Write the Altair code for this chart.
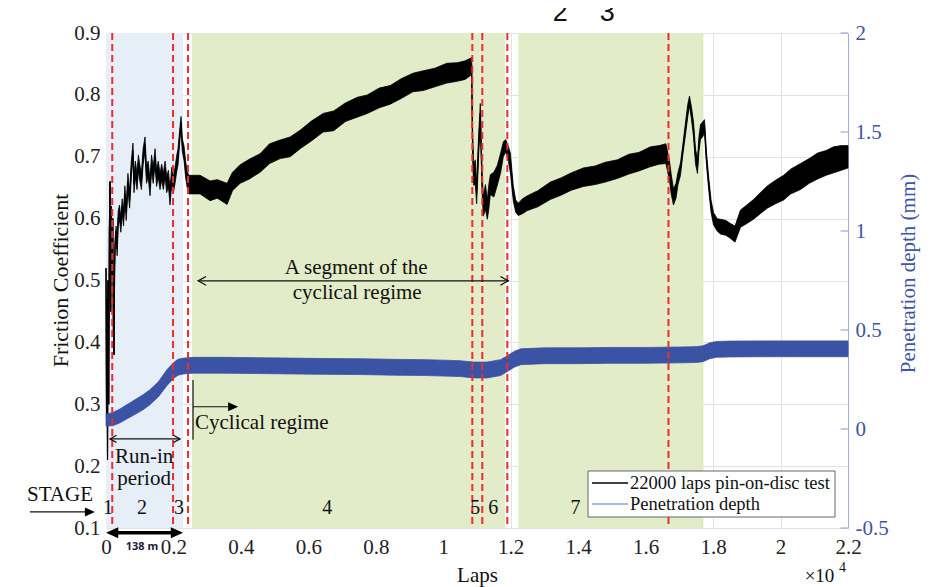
import altair as alt
import pandas as pd

FONT = "Liberation Serif"
W, H = 742, 495
XDOM = [0, 22000]
FRDOM = [0.1, 0.9]
DPDOM = [-0.5, 2]

# ---------------- friction coefficient (left axis): centre and half band width ----------------
fr_laps = [0, 15, 30, 45, 60, 80, 100, 120, 140, 160,
           180, 200, 220, 237, 255, 270, 300, 330, 360, 400,
           440, 480, 520, 560, 600, 650, 700, 750, 800, 830,
           870, 920, 960, 1000, 1050, 1100, 1157, 1200, 1250, 1306,
           1350, 1400, 1454, 1500, 1550, 1602, 1650, 1700, 1751, 1800,
           1850, 1899, 1950, 2000, 2047, 2100, 2136, 2180, 2225, 2260,
           2315, 2360, 2404, 2450,
           2493, 2789, 3086, 3300, 3590, 3750, 3976, 4250, 4570, 4850,
           5163, 5460, 5757, 6100, 6439, 6750, 7100, 7448, 7750, 8100,
           8427, 8750, 9100, 9407, 9750, 10100, 10415, 10650, 10801, 10840,
           10870, 10900, 10950, 10990, 11050, 11098, 11150, 11187, 11250, 11306,
           11350, 11395, 11500, 11602, 11700, 11780, 11850, 11929, 11990, 12077,
           12150, 12226, 12350, 12493, 12800, 13175, 13500, 13800, 14154, 14500,
           14800, 15163, 15500, 15800, 16142, 16400, 16600, 16700, 16760, 16825,
           16900, 16960, 17033, 17100, 17181, 17250, 17300, 17360, 17418, 17480,
           17537, 17580, 17626, 17700, 17745, 17800, 17864, 17940, 18012, 18120,
           18220, 18380, 18516, 18650, 18813, 19000, 19199, 19400, 19614, 19850,
           20089, 20300, 20593, 20850, 21098, 21350, 21573, 21800, 22000]
fr_mid = [0.52, 0.28, 0.47, 0.21, 0.50, 0.30, 0.58, 0.66, 0.45, 0.62,
          0.50, 0.60, 0.42, 0.38, 0.52, 0.56, 0.58, 0.55, 0.60, 0.61,
          0.59, 0.62, 0.60, 0.64, 0.61, 0.66, 0.63, 0.68, 0.71, 0.655,
          0.68, 0.66, 0.69, 0.675, 0.66, 0.70, 0.72, 0.67, 0.68, 0.65,
          0.69, 0.67, 0.70, 0.665, 0.68, 0.66, 0.675, 0.66, 0.68, 0.655,
          0.665, 0.635, 0.67, 0.655, 0.67, 0.69, 0.70, 0.73, 0.757, 0.72,
          0.705, 0.68, 0.665, 0.655,
          0.655, 0.655, 0.645, 0.648, 0.640, 0.66, 0.672, 0.68, 0.69, 0.705,
          0.712, 0.716, 0.728, 0.742, 0.755, 0.758, 0.772, 0.78, 0.785, 0.795,
          0.80, 0.81, 0.82, 0.823, 0.828, 0.835, 0.837, 0.84, 0.845, 0.848,
          0.72, 0.67, 0.675, 0.64, 0.72, 0.77, 0.66, 0.62, 0.635, 0.615,
          0.635, 0.655, 0.655, 0.67, 0.69, 0.712, 0.718, 0.705, 0.69, 0.64,
          0.62, 0.615, 0.62, 0.625, 0.632, 0.645, 0.652, 0.66, 0.667, 0.67,
          0.675, 0.68, 0.688, 0.692, 0.70, 0.703, 0.705, 0.68, 0.655, 0.635,
          0.645, 0.665, 0.68, 0.71, 0.745, 0.775, 0.79, 0.77, 0.745, 0.70,
          0.685, 0.72, 0.74, 0.745, 0.75, 0.70, 0.66, 0.62, 0.60, 0.59,
          0.587, 0.585, 0.58, 0.575, 0.60, 0.607, 0.615, 0.625, 0.635, 0.643,
          0.65, 0.66, 0.668, 0.677, 0.685, 0.69, 0.695, 0.698, 0.70]
fr_half = [0, 0, 0, 0, 0, 0, 0, 0, 0, 0,
           0, 0, 0, 0, 0.004, 0.006, 0.008, 0.01, 0.012, 0.012,
           0.012, 0.012, 0.012, 0.013, 0.013, 0.013, 0.013, 0.013, 0.012, 0.013,
           0.013, 0.013, 0.013, 0.013, 0.013, 0.013, 0.012, 0.013, 0.013, 0.013,
           0.013, 0.013, 0.013, 0.013, 0.013, 0.013, 0.013, 0.013, 0.013, 0.013,
           0.013, 0.013, 0.013, 0.013, 0.013, 0.013, 0.013, 0.01, 0.008, 0.01,
           0.012, 0.013, 0.014, 0.015,
           0.015, 0.015, 0.016, 0.015, 0.017, 0.015, 0.015, 0.016, 0.015, 0.016,
           0.015, 0.016, 0.015, 0.016, 0.015, 0.016, 0.015, 0.016, 0.015, 0.016,
           0.015, 0.016, 0.015, 0.016, 0.015, 0.016, 0.015, 0.015, 0.014, 0.012,
           0.016, 0.016, 0.02, 0.016, 0.016, 0.016, 0.016, 0.016, 0.02, 0.016,
           0.02, 0.016, 0.02, 0.016, 0.016, 0.012, 0.01, 0.012, 0.016, 0.012,
           0.01, 0.01, 0.012, 0.012, 0.013, 0.014, 0.014, 0.014, 0.015, 0.015,
           0.016, 0.015, 0.016, 0.015, 0.016, 0.015, 0.016, 0.016, 0.016, 0.013,
           0.012, 0.01, 0.01, 0.008, 0.01, 0.01, 0.008, 0.01, 0.012, 0.012,
           0.012, 0.012, 0.012, 0.012, 0.01, 0.01, 0.01, 0.01, 0.01, 0.01,
           0.012, 0.012, 0.012, 0.013, 0.014, 0.015, 0.016, 0.017, 0.018, 0.019,
           0.02, 0.02, 0.021, 0.02, 0.021, 0.02, 0.021, 0.02, 0.018]

# ---------------- penetration depth (right axis, mm) ----------------
dp_laps = [0, 200, 400, 800, 1100, 1300, 1550, 1810, 2000, 2136,
           2300, 2600, 3500, 4500, 5500, 6500, 7500, 8500, 9500, 10500,
           10900, 11300, 11700, 11900, 12100, 12300, 13000, 14000, 15000, 16000,
           17000, 17500, 17700, 17900, 18100, 18500, 19500, 20500, 21500, 22000]
dp_mid = [0.045, 0.05, 0.065, 0.105, 0.135, 0.16, 0.20, 0.26, 0.295, 0.312,
          0.318, 0.322, 0.322, 0.32, 0.318, 0.316, 0.315, 0.312, 0.31, 0.305,
          0.298, 0.298, 0.31, 0.33, 0.352, 0.365, 0.37, 0.37, 0.372, 0.372,
          0.374, 0.376, 0.38, 0.395, 0.402, 0.404, 0.405, 0.405, 0.405, 0.405]
dp_half = [0.03, 0.033, 0.035, 0.037, 0.038, 0.038, 0.038, 0.04, 0.04, 0.04,
           0.04, 0.04, 0.04, 0.04, 0.04, 0.04, 0.04, 0.04, 0.04, 0.04,
           0.04, 0.04, 0.04, 0.04, 0.04, 0.04, 0.04, 0.04, 0.04, 0.04,
           0.04, 0.04, 0.04, 0.04, 0.04, 0.04, 0.04, 0.04, 0.04, 0.04]

# ---------------- stages / annotations ----------------
divider_laps = [185, 1988, 2433, 10861, 11157, 11899, 16677]
shade_start = [0, 2552, 12226]
shade_end = [2285, 11840, 17715]
shade_kind = ["run-in", "cyclical", "cyclical"]
stage_names = ["1", "2", "3", "4", "5", "6", "7"]
stage_laps = [60, 1068, 2166, 6558, 10950, 11484, 13917]
series_names = ["22000 laps pin-on-disc test", "Penetration depth"]

x_ticks = [0, 2000, 4000, 6000, 8000, 10000, 12000, 14000, 16000, 18000, 20000, 22000]
fr_ticks = [0.1, 0.2, 0.3, 0.4, 0.5, 0.6, 0.7, 0.8, 0.9]
dp_ticks = [-0.5, 0, 0.5, 1, 1.5, 2]

BLUE = "#3a53a5"
AXBLUE = "#4053a8"
RED = "#ef2b2b"

fr_df = pd.DataFrame({"laps": fr_laps, "mid": fr_mid, "half": fr_half})
fr_df["lo"] = fr_df["mid"] - fr_df["half"]
fr_df["hi"] = fr_df["mid"] + fr_df["half"]
dp_df = pd.DataFrame({"laps": dp_laps, "mid": dp_mid, "half": dp_half})
dp_df["lo"] = dp_df["mid"] - dp_df["half"]
dp_df["hi"] = dp_df["mid"] + dp_df["half"]

x_axis = alt.Axis(values=x_ticks, labelExpr="'' + datum.value / 10000", title="Laps",
                  titleFont=FONT, titleFontSize=21, titleFontWeight="normal", titleColor="#111",
                  titleY=47, titleBaseline="middle", labelFont=FONT, labelFontSize=21, labelColor="#222",
                  labelPadding=8, ticks=False, domain=False, grid=True, gridColor="#e2e2e2",
                  labelFlush=False, labelOverlap=False)
fr_axis = alt.Axis(orient="left", values=fr_ticks, format=".1f", title="Friction Coefficient",
                   titleFont=FONT, titleFontSize=22, titleFontWeight="normal", titleColor="#111",
                   titleAngle=270, titleX=-46, titleY=247, titleAlign="center", titleBaseline="middle",
                   labelFont=FONT, labelFontSize=21, labelColor="#222", labelPadding=6, ticks=False,
                   domain=False, grid=True, gridColor="#e2e2e2")
dp_axis = alt.Axis(orient="right", values=dp_ticks, labelExpr="'' + datum.value",
                   title="Penetration depth (mm)", titleFont=FONT, titleFontSize=21,
                   titleFontWeight="normal", titleColor=AXBLUE, titleAngle=270, titleX=60, titleY=240,
                   titleAlign="center", titleBaseline="middle", labelFont=FONT, labelFontSize=21,
                   labelColor=AXBLUE, labelPadding=7, ticks=False, domain=True, domainColor="#a3acd9",
                   grid=False)


def X(field):
    return alt.X(field, type="quantitative", scale=alt.Scale(domain=XDOM, nice=False, zero=False), axis=x_axis)


def YF(field):
    return alt.Y(field, type="quantitative", scale=alt.Scale(domain=FRDOM, nice=False, zero=False), axis=fr_axis)


def YA(field):
    return alt.Y(field, type="quantitative", scale=alt.Scale(domain=FRDOM, nice=False, zero=False), axis=None)


def YD(field):
    return alt.Y(field, type="quantitative", scale=alt.Scale(domain=DPDOM, nice=False, zero=False), axis=dp_axis)


# ---------- friction group ----------
shade_df = pd.DataFrame({"start": shade_start, "end": shade_end, "kind": shade_kind})
shade = alt.Chart(shade_df).mark_rect().encode(
    x=X("start"), x2="end", y=alt.value(0), y2=alt.value(H),
    color=alt.Color("kind:N", scale=alt.Scale(domain=["run-in", "cyclical"], range=["#e6eef8", "#e3ecc8"]),
                    legend=None))
fr_band = alt.Chart(fr_df).mark_area(color="black", opacity=1, stroke="black", strokeWidth=0.8).encode(
    x=X("laps"), y=YF("lo"), y2="hi")
fr_line = alt.Chart(fr_df).mark_line(color="black", strokeWidth=1.2).encode(x=X("laps"), y=YF("mid"))
fr_group = alt.layer(shade, fr_band, fr_line)

# ---------- depth group ----------
dp_band = alt.Chart(dp_df).mark_area(color=BLUE, opacity=1, stroke=BLUE, strokeWidth=0.8).encode(
    x=X("laps"), y=YD("lo"), y2="hi")
dtick_df = pd.DataFrame({"v": dp_ticks, "a": [21780] * len(dp_ticks), "b": [22000] * len(dp_ticks)})
dp_ticks_l = alt.Chart(dtick_df).mark_rule(color="#8c97cf", strokeWidth=1).encode(
    x=X("a"), x2="b", y=YD("v"))
dp_group = alt.layer(dp_band, dp_ticks_l)

# ---------- annotation group (friction coordinates, no axis) ----------
div_df = pd.DataFrame({"laps": divider_laps})
dividers = alt.Chart(div_df).mark_rule(color=RED, strokeWidth=2, strokeDash=[7, 4]).encode(
    x=X("laps"), y=alt.value(0), y2=alt.value(H))

big_df = pd.DataFrame({"laps": [7418, 7448, 1130, 1130, -1365],
                       "y": [0.52, 0.48, 0.215, 0.179, 0.154],
                       "label": ["A segment of the", "cyclical regime", "Run-in", "period", "STAGE"]})
big_text = alt.Chart(big_df).mark_text(font=FONT, fontSize=21, color="#111", baseline="middle",
                                       align="center").encode(x=X("laps"), y=YA("y"), text="label")
cyc_df = pd.DataFrame({"laps": [2640], "y": [0.27], "label": ["Cyclical regime"]})
cyc_text = alt.Chart(cyc_df).mark_text(font=FONT, fontSize=21, color="#111", baseline="middle",
                                       align="left").encode(x=X("laps"), y=YA("y"), text="label")
st_df = pd.DataFrame({"laps": stage_laps, "y": [0.133] * 7, "label": stage_names})
st_text = alt.Chart(st_df).mark_text(font=FONT, fontSize=20, color="#111", baseline="middle",
                                     align="center").encode(x=X("laps"), y=YA("y"), text="label")
m_df = pd.DataFrame({"laps": [1068], "y": [0.0696], "label": ["138 m"]})
m_text = alt.Chart(m_df).mark_text(font="Noto Sans", fontSize=11, fontWeight="bold", color="#1b1b3a",
                                   baseline="middle", align="center").encode(x=X("laps"), y=YA("y"), text="label")
e_df = pd.DataFrame({"laps": [21155], "y": [0.0225], "label": ["\u00d710"]})
e_text = alt.Chart(e_df).mark_text(font=FONT, fontSize=19, color="#111", baseline="middle",
                                   align="center").encode(x=X("laps"), y=YA("y"), text="label")
p_df = pd.DataFrame({"laps": [21837], "y": [0.036], "label": ["4"]})
p_text = alt.Chart(p_df).mark_text(font=FONT, fontSize=14, color="#111", baseline="middle",
                                   align="center").encode(x=X("laps"), y=YA("y"), text="label")
top_df = pd.DataFrame({"laps": [13472, 14866], "y": [0.9194, 0.9194], "label": ["2", "3"]})
top_text = alt.Chart(top_df).mark_text(font="Liberation Sans", fontSize=27, color="#111",
                                       baseline="alphabetic", align="center").encode(
    x=X("laps"), y=YA("y"), text="label")

seg_df = pd.DataFrame({"a": [2730, 119, 2580, 2580, -2255],
                       "b": [11929, 2196, 2580, 3760, -520],
                       "y": [0.4994, 0.244, 0.339, 0.296, 0.126],
                       "y2": [0.4994, 0.244, 0.2425, 0.296, 0.126]})
segs = alt.Chart(seg_df).mark_rule(color="#111", strokeWidth=1.2).encode(
    x=X("a"), x2="b", y=YA("y"), y2="y2")
thick_df = pd.DataFrame({"a": [250], "b": [2040], "y": [0.0922]})
thick = alt.Chart(thick_df).mark_rule(color="black", strokeWidth=3.5).encode(x=X("a"), x2="b", y=YA("y"))

SHAPES = {"right": "M0,0L-1,-0.45L-1,0.45Z", "left": "M0,0L1,-0.45L1,0.45Z",
          "rchev": "M-1,-0.55L0,0L-1,0.55", "lchev": "M1,-0.55L0,0L1,0.55"}
shape_scale = alt.Scale(domain=list(SHAPES.keys()), range=list(SHAPES.values()))
head_df = pd.DataFrame({"laps": [3917, -330, 0, 2285], "y": [0.296, 0.126, 0.0922, 0.0922],
                        "kind": ["right", "right", "left", "right"], "sz": [400, 400, 600, 600]})
heads = alt.Chart(head_df).mark_point(filled=True, color="black", opacity=1, strokeWidth=0).encode(
    x=X("laps"), y=YA("y"), shape=alt.Shape("kind:N", scale=shape_scale, legend=None),
    size=alt.Size("sz:Q", scale=None, legend=None))
chev_df = pd.DataFrame({"laps": [2730, 11929, 119, 2196], "y": [0.4994, 0.4994, 0.244, 0.244],
                        "kind": ["lchev", "rchev", "lchev", "rchev"], "sz": [256, 256, 170, 170]})
chevs = alt.Chart(chev_df).mark_point(filled=False, color="#111", opacity=1, strokeWidth=1.2).encode(
    x=X("laps"), y=YA("y"), shape=alt.Shape("kind:N", scale=shape_scale, legend=None),
    size=alt.Size("sz:Q", scale=None, legend=None))

# manual legend box
one = pd.DataFrame({"k": [0]})
leg_box = alt.Chart(one).mark_rect(fill="white", stroke="#666", strokeWidth=1).encode(
    x=alt.value(482), x2=alt.value(729), y=alt.value(438), y2=alt.value(484))
leg_l1 = alt.Chart(one).mark_rule(color="black", strokeWidth=1.6).encode(
    x=alt.value(486), x2=alt.value(522), y=alt.value(450))
leg_l2 = alt.Chart(one).mark_rule(color="#5a6fc4", strokeWidth=1).encode(
    x=alt.value(486), x2=alt.value(522), y=alt.value(471))
leg_t1 = alt.Chart(one).mark_text(font=FONT, fontSize=18.5, color="#111", align="left", baseline="middle",
                                  text=series_names[0]).encode(x=alt.value(524), y=alt.value(450))
leg_t2 = alt.Chart(one).mark_text(font=FONT, fontSize=18.5, color="#111", align="left", baseline="middle",
                                  text=series_names[1]).encode(x=alt.value(524), y=alt.value(471))

an_group = alt.layer(dividers, segs, thick, heads, chevs, big_text, cyc_text, st_text, m_text, e_text,
                     p_text, top_text, leg_box, leg_l1, leg_l2, leg_t1, leg_t2)

chart = alt.layer(fr_group, dp_group, an_group).resolve_scale(y="independent").properties(
    width=W, height=H, padding={"left": 98, "top": 25, "right": 80, "bottom": 59},
    autosize=alt.AutoSizeParams(type="none"), background="white"
).configure(font=FONT).configure_view(strokeWidth=0).configure_axis(
    labelFont=FONT, titleFont=FONT, labelFontSize=21, titleFontWeight="normal"
).configure_text(font=FONT)

chart.save("out.html", embed_options={"renderer": "svg", "actions": False})
